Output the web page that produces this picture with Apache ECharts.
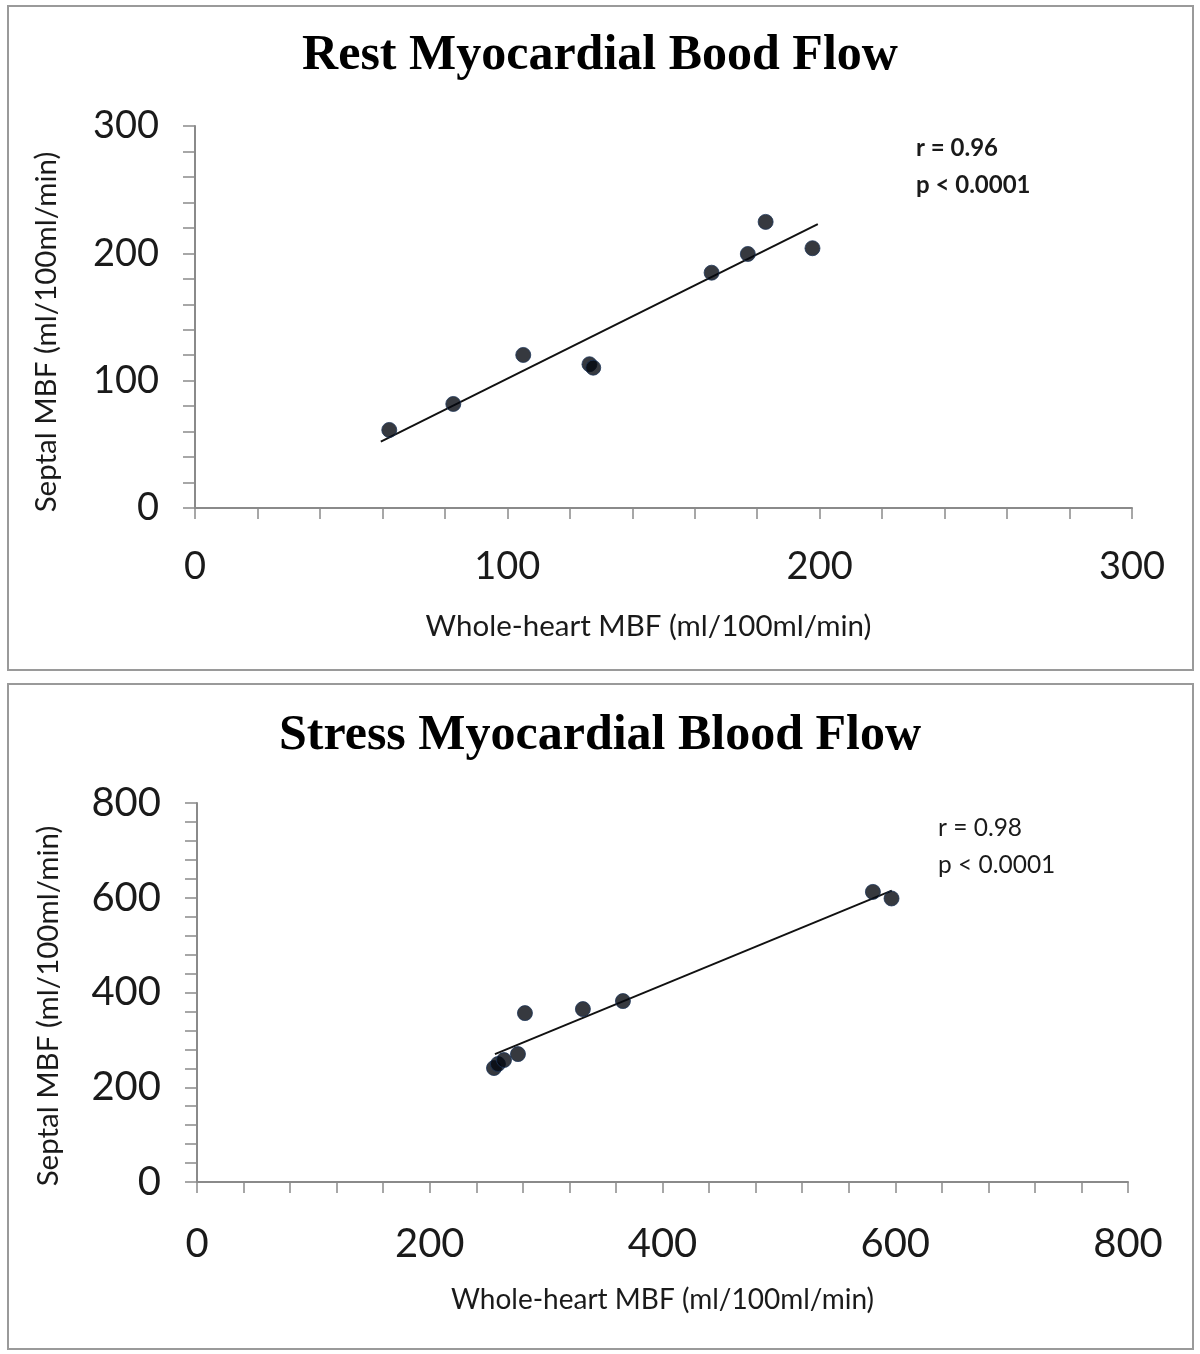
<!DOCTYPE html>
<html>
<head>
<meta charset="utf-8">
<script src="https://cdn.jsdelivr.net/npm/echarts@6/dist/echarts.min.js"></script>
<style>
html,body{margin:0;padding:0;background:#fff;}
#c{width:1200px;height:1354px;}
</style>
</head>
<body>
<div id="c"></div>
<script>
// Rest panel data (ml/100ml/min)
const restWhole  = [62.2, 82.7, 105.1, 126.3, 127.5, 165.4, 177.0, 182.7, 197.7];
const restSeptal = [61.3, 81.7, 120.2, 112.9, 110.2, 184.8, 199.5, 224.7, 204.0];
const restTrendX = [59.5, 199.4];
const restTrendY = [52.1, 222.9];
const restStats  = ['r = 0.96', 'p < 0.0001'];

// Stress panel data (ml/100ml/min)
const stressWhole  = [255.2, 258.6, 263.8, 275.8, 281.8, 331.6, 366.0, 580.8, 596.8];
const stressSeptal = [240.5, 249.0, 257.4, 270.0, 356.5, 365.0, 381.9, 612.4, 598.5];
const stressTrendX = [256, 597];
const stressTrendY = [270, 615];
const stressStats  = ['r = 0.98', 'p < 0.0001'];

const titles = ['Rest Myocardial Bood Flow', 'Stress Myocardial Blood Flow'];
const xName = 'Whole-heart MBF (ml/100ml/min)';
const yName = 'Septal MBF (ml/100ml/min)';
const restTicks = {min: 0, max: 300, interval: 100};
const stressTicks = {min: 0, max: 800, interval: 200};

const zip = (a, b) => a.map((v, i) => [v, b[i]]);

const axisGray = '#8a8a8a';
const txt = '#1a1a1a';

function xAxis(grid, t, nameGap, nameSize, labelSize, labelMargin, namePad) {
  return {
    type: 'value', gridIndex: grid, min: t.min, max: t.max, interval: t.interval,
    splitLine: {show: false},
    axisLine: {lineStyle: {color: axisGray, width: 2}},
    axisTick: {inside: false, length: 11, lineStyle: {color: axisGray, width: 1.5}},
    minorTick: {show: true, splitNumber: 5, length: 11, lineStyle: {color: axisGray, width: 1.5}},
    axisLabel: {margin: labelMargin, fontFamily: 'Lato', fontSize: labelSize, color: txt},
    name: xName, nameLocation: 'middle', nameGap: nameGap,
    nameTextStyle: {fontFamily: 'Lato', fontSize: nameSize, color: txt, padding: namePad}
  };
}
function yAxis(grid, t, labelSize, namePad) {
  return {
    type: 'value', gridIndex: grid, min: t.min, max: t.max, interval: t.interval,
    splitLine: {show: false},
    axisLine: {lineStyle: {color: axisGray, width: 2}},
    axisTick: {inside: false, length: 12, lineStyle: {color: axisGray, width: 1.5}},
    minorTick: {show: true, splitNumber: 5, length: 12, lineStyle: {color: axisGray, width: 1.5}},
    axisLabel: {margin: 36, fontFamily: 'Lato', fontSize: labelSize, color: txt},
    name: yName, nameLocation: 'middle', nameGap: 134, nameRotate: 90,
    nameTextStyle: {fontFamily: 'Lato', fontSize: 29.5, color: txt, padding: namePad}
  };
}

const markerStyle = {color: '#04080f', borderColor: '#1d3558', borderWidth: 1};

const chart = echarts.init(document.getElementById('c'), null, {renderer: 'canvas'});
chart.setOption({
  animation: false,
  backgroundColor: '#fff',
  title: [
    {text: titles[0], left: 'center', top: 26, textStyle: {fontFamily: 'Liberation Serif', fontWeight: 'bold', fontSize: 50, color: '#000'}},
    {text: titles[1], left: 'center', top: 706, textStyle: {fontFamily: 'Liberation Serif', fontWeight: 'bold', fontSize: 50, color: '#000'}}
  ],
  grid: [
    {left: 195, right: 68, top: 126, height: 382, containLabel: false, outerBoundsMode: 'none'},
    {left: 197, right: 72, top: 803, height: 379, containLabel: false, outerBoundsMode: 'none'}
  ],
  xAxis: [xAxis(0, restTicks, 103, 29.5, 38, 40, [0, 30, 0, 0]), xAxis(1, stressTicks, 104, 28, 40, 42, 0)],
  yAxis: [yAxis(0, restTicks, 38, [0, 30, 0, 0]), yAxis(1, stressTicks, 40, [0, 27, 0, 0])],
  series: [
    {type: 'scatter', xAxisIndex: 0, yAxisIndex: 0, symbolSize: 15, itemStyle: markerStyle, data: zip(restWhole, restSeptal), z: 3},
    {type: 'line', xAxisIndex: 0, yAxisIndex: 0, symbol: 'none', lineStyle: {color: '#111', width: 2}, data: zip(restTrendX, restTrendY), z: 2},
    {type: 'scatter', xAxisIndex: 1, yAxisIndex: 1, symbolSize: 15, itemStyle: markerStyle, data: zip(stressWhole, stressSeptal), z: 3},
    {type: 'line', xAxisIndex: 1, yAxisIndex: 1, symbol: 'none', lineStyle: {color: '#111', width: 2}, data: zip(stressTrendX, stressTrendY), z: 2}
  ],
  graphic: [
    {type: 'rect', shape: {x: 8, y: 6, width: 1185, height: 664}, style: {fill: 'none', stroke: '#9a9a9a', lineWidth: 2}, z: -1},
    {type: 'rect', shape: {x: 8, y: 684, width: 1185, height: 665}, style: {fill: 'none', stroke: '#9a9a9a', lineWidth: 2}, z: -1},
    {type: 'text', left: 916, top: 130, style: {text: restStats.join('\n'), font: 'bold 24px Lato', fill: txt, lineHeight: 37}},
    {type: 'text', left: 938, top: 810, style: {text: stressStats.join('\n'), font: '24.5px Lato', fill: txt, lineHeight: 37}}
  ]
});
</script>
</body>
</html>
